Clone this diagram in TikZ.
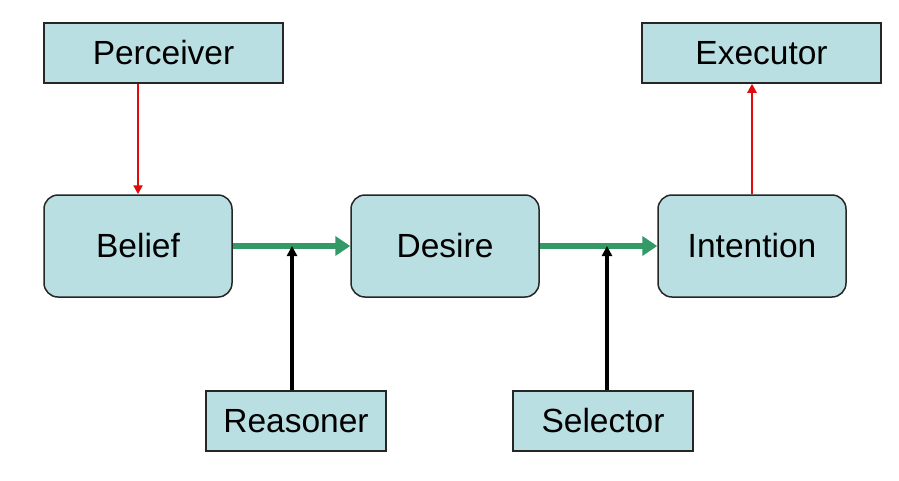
\documentclass[tikz,border=0pt]{standalone}
\usepackage{fontspec}
\setmainfont{Liberation Sans}
\usetikzlibrary{arrows.meta}
\definecolor{boxfill}{RGB}{186,223,227}
\definecolor{agreen}{RGB}{51,153,102}
\definecolor{ared}{RGB}{225,10,10}
\begin{document}
\begin{tikzpicture}[x=1pt,y=-1pt,
  sq/.style={draw=black!85,line width=1.5pt,fill=boxfill,minimum width=239pt,minimum height=60pt,inner sep=0pt,font=\fontsize{33.5}{40}\selectfont},
  sqs/.style={sq,minimum width=180pt},
  rnd/.style={draw=black!85,line width=1.5pt,fill=boxfill,rounded corners=14pt,minimum width=188pt,minimum height=102pt,inner sep=0pt,font=\fontsize{33.5}{40}\selectfont},
  garrow/.style={draw=agreen,line width=5.5pt,-{Triangle[length=15pt,width=19pt]}},
  rarrow/.style={draw=ared,line width=2.8pt,-{Triangle[length=9pt,width=9pt]}},
  karrow/.style={draw=black,line width=3.2pt,-{Triangle[length=10pt,width=10pt]}}]
\useasboundingbox (0,0) rectangle (899,480);
\fill[white] (0,0) rectangle (899,480);
\node[sq] (perc) at (163.5,53) {Perceiver};
\node[sq] (exec) at (761.5,53) {Executor};
\node[rnd] (bel) at (138,246) {Belief};
\node[rnd] (des) at (445,246) {Desire};
\node[rnd] (int) at (752,246) {Intention};
\node[sqs] (reas) at (296,421) {Reasoner};
\node[sqs] (sel) at (603,421) {Selector};
\coordinate (m1) at (292,246);
\coordinate (m2) at (607,246);
\draw[garrow] (bel.east) -- (des.west);
\draw[garrow] (des.east) -- (int.west);
\draw[rarrow] (perc.south -| bel.north) -- (bel.north);
\draw[rarrow] (int.north) -- (int.north |- exec.south);
\draw[karrow] (reas.north -| m1) -- (m1);
\draw[karrow] (sel.north -| m2) -- (m2);
\end{tikzpicture}
\end{document}
